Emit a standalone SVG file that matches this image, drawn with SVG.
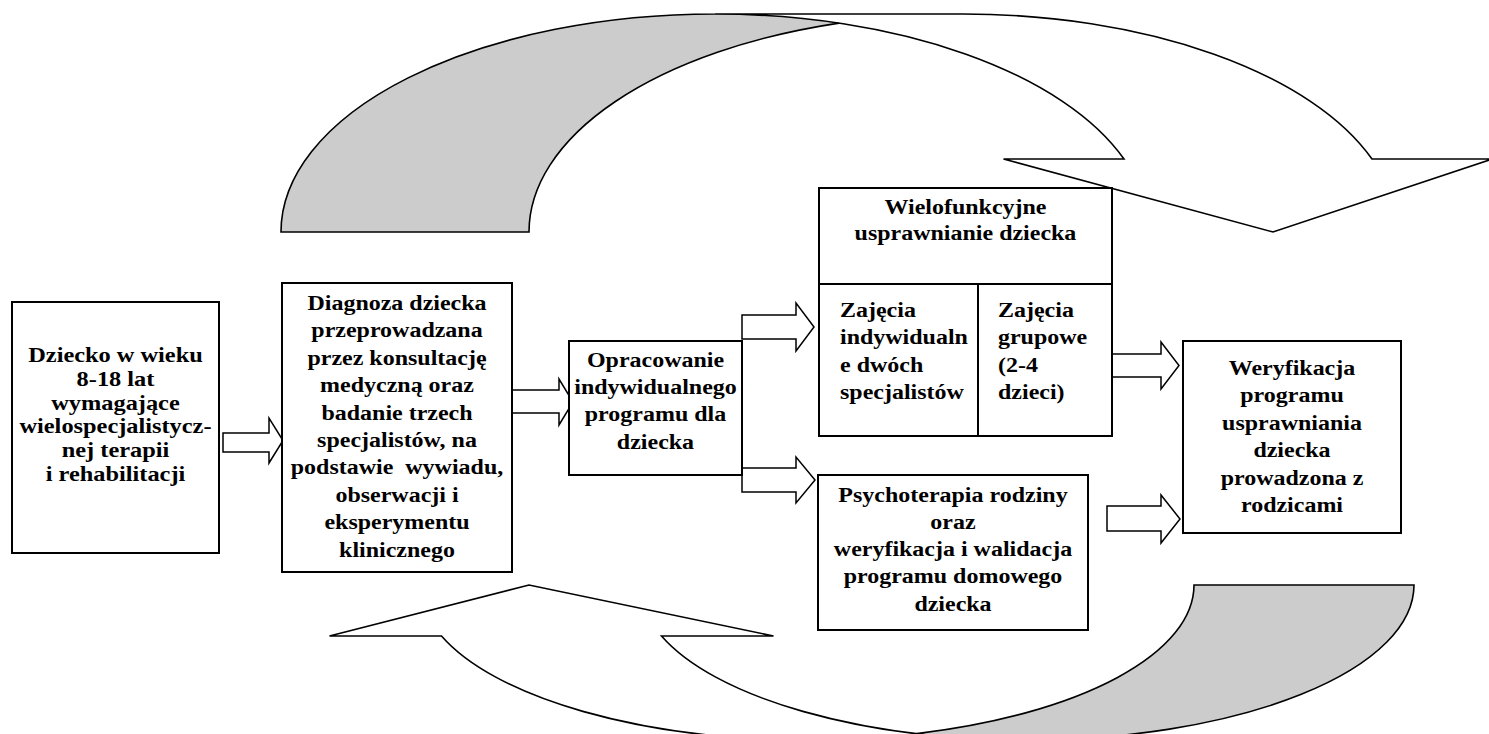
<svg xmlns="http://www.w3.org/2000/svg" width="1489" height="734" viewBox="0 0 1489 734">
<style>
.box{fill:#fff;stroke:#000;stroke-width:2}
.arr{fill:#fff;stroke:#000;stroke-width:1.5;stroke-linejoin:miter}
.cv{fill:none;stroke:#000;stroke-width:1.6;stroke-linejoin:miter}
.front{fill:#fff;stroke:none}
.back{fill:#cccccc;stroke:none}
.t{font-family:'Liberation Serif','Times New Roman','DejaVu Serif',serif;font-weight:bold;font-size:22px;fill:#000}
.s{font-size:21px}
.c{text-anchor:middle}
</style>
<rect width="1489" height="734" fill="#fff"/>
<g id="connectors">
  <g id="curved-top">
    <path class="back" d="M839,23.1 A434,218 0 0 0 529,232 L281,232 A434,218 0 0 1 839,23.1 Z"/>
    <path class="front" d="M1273,232 L1003.5,159 L1124,159 A434,218 0 0 0 715,14 L963,14 A434,218 0 0 1 1372,159 L1492.5,159 Z"/>
    <path class="cv" d="M839,23.1 A434,218 0 0 0 529,232 L281,232 A434,218 0 0 1 715,14 L963,14 A434,218 0 0 1 1372,159 L1492.5,159 L1273,232 L1003.5,159 L1124,159 A434,218 0 0 0 715,14"/>
  </g>
  <g id="curved-bottom">
    <path class="back" d="M917,733.6 A387,155 0 0 0 1194,585 L1414,585 A387,155 0 0 1 917,733.6 Z"/>
    <path class="front" d="M529,585 L773.5,636 L661.5,636 A387,155 0 0 0 1027,740 L807,740 A387,155 0 0 1 441.5,636 L329.5,636 Z"/>
    <path class="cv" d="M917,733.6 A387,155 0 0 0 1194,585 L1414,585 A387,155 0 0 1 1027,740 L807,740 A387,155 0 0 1 441.5,636 L329.5,636 L529,585 L773.5,636 L661.5,636 A387,155 0 0 0 1027,740"/>
  </g>
  <polygon class="arr" points="223,433 269,433 269,418 283,440.5 269,463 269,452 223,452"/>
  <polygon class="arr" points="512,390 559,390 559,379 573,402 559,425 559,413 512,413"/>
  <polygon class="arr" points="742,315 796,315 796,303 814,327 796,351 796,339 742,339"/>
  <polygon class="arr" points="742,468 796,468 796,457 815,480 796,503 796,492 742,492"/>
  <polygon class="arr" points="1107,354 1161,354 1161,342 1179,365.5 1161,389 1161,377 1107,377"/>
  <polygon class="arr" points="1107,506 1161,506 1161,495 1180,519 1161,543 1161,531 1107,531"/>
</g>
<g id="n1">
  <rect class="box" x="12" y="302" width="207" height="251"/>
  <g transform="translate(115.5,0) scale(1.16,1) translate(-115.5,0)">
    <text class="t s c" x="115.5" y="362">Dziecko w wieku</text>
    <text class="t s c" x="115.5" y="386">8-18 lat</text>
    <text class="t s c" x="115.5" y="410">wymagające</text>
    <text class="t s c" x="115.5" y="433">wielospecjalistycz-</text>
    <text class="t s c" x="115.5" y="457">nej terapii</text>
    <text class="t s c" x="115.5" y="481">i rehabilitacji</text>
  </g>
</g>
<g id="n2">
  <rect class="box" x="282" y="283" width="230" height="289"/>
  <g transform="translate(397,0) scale(1.09,1) translate(-397,0)">
    <text class="t c" x="397" y="310">Diagnoza dziecka</text>
    <text class="t c" x="397" y="337.4">przeprowadzana</text>
    <text class="t c" x="397" y="364.8">przez konsultację</text>
    <text class="t c" x="397" y="392.2">medyczną oraz</text>
    <text class="t c" x="397" y="419.6">badanie trzech</text>
    <text class="t c" x="397" y="447">specjalistów, na</text>
    <text class="t c" x="397" y="474.4" xml:space="preserve">podstawie  wywiadu,</text>
    <text class="t c" x="397" y="501.8">obserwacji i</text>
    <text class="t c" x="397" y="529.2">eksperymentu</text>
    <text class="t c" x="397" y="556.6">klinicznego</text>
  </g>
</g>
<g id="n3">
  <rect class="box" x="569" y="341" width="173" height="134"/>
  <g transform="translate(655.5,0) scale(1.09,1) translate(-655.5,0)">
    <text class="t c" x="655.5" y="367">Opracowanie</text>
    <text class="t c" x="655.5" y="394">indywidualnego</text>
    <text class="t c" x="655.5" y="421">programu dla</text>
    <text class="t c" x="655.5" y="449">dziecka</text>
  </g>
</g>
<g id="n4">
  <rect class="box" x="819" y="188" width="293" height="248"/>
  <line class="box" x1="819" y1="284" x2="1112" y2="284"/>
  <line class="box" x1="978" y1="284" x2="978" y2="436"/>
  <g transform="translate(965.5,0) scale(1.09,1) translate(-965.5,0)">
    <text class="t c" x="965.5" y="214">Wielofunkcyjne</text>
    <text class="t c" x="965.5" y="240.5">usprawnianie dziecka</text>
  </g>
  <g transform="translate(840,0) scale(1.09,1) translate(-840,0)">
    <text class="t" x="840" y="316.7">Zajęcia</text>
    <text class="t" x="840" y="344.3">indywidualn</text>
    <text class="t" x="840" y="371.7">e dwóch</text>
    <text class="t" x="840" y="399.3">specjalistów</text>
  </g>
  <g transform="translate(998,0) scale(1.09,1) translate(-998,0)">
    <text class="t" x="998" y="316.7">Zajęcia</text>
    <text class="t" x="998" y="344.3">grupowe</text>
    <text class="t" x="998" y="371.7">(2-4</text>
    <text class="t" x="998" y="399.3">dzieci)</text>
  </g>
</g>
<g id="n5">
  <rect class="box" x="818" y="475" width="270" height="155"/>
  <g transform="translate(953,0) scale(1.09,1) translate(-953,0)">
    <text class="t c" x="953" y="502">Psychoterapia rodziny</text>
    <text class="t c" x="953" y="529">oraz</text>
    <text class="t c" x="953" y="556">weryfikacja i walidacja</text>
    <text class="t c" x="953" y="583">programu domowego</text>
    <text class="t c" x="953" y="611">dziecka</text>
  </g>
</g>
<g id="n6">
  <rect class="box" x="1183" y="341" width="218" height="192"/>
  <g transform="translate(1292,0) scale(1.09,1) translate(-1292,0)">
    <text class="t c" x="1292" y="375">Weryfikacja</text>
    <text class="t c" x="1292" y="402">programu</text>
    <text class="t c" x="1292" y="430">usprawniania</text>
    <text class="t c" x="1292" y="457">dziecka</text>
    <text class="t c" x="1292" y="485">prowadzona z</text>
    <text class="t c" x="1292" y="512">rodzicami</text>
  </g>
</g>
</svg>
